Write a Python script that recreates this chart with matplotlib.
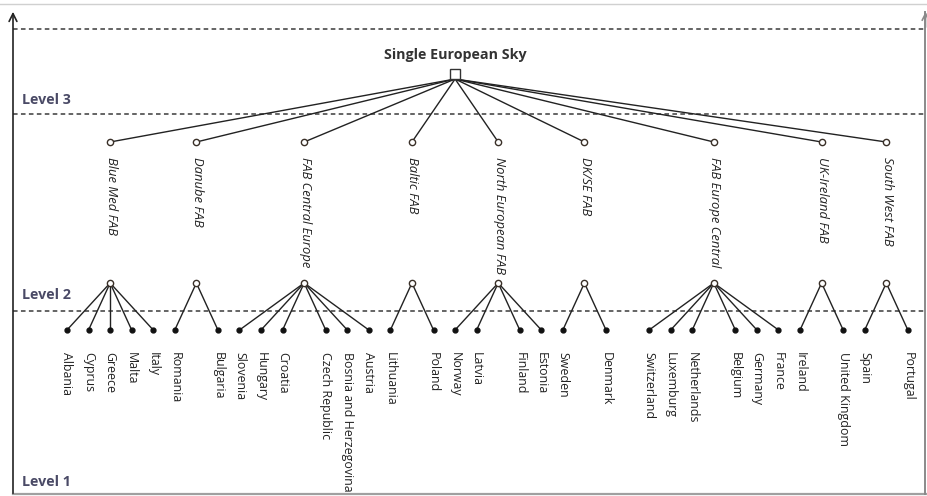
import matplotlib.pyplot as plt

plt.rcParams['font.family'] = ['Open Sans', 'DejaVu Sans']

# Tree data: root -> FABs -> member states
root_name = "Single European Sky"
fab_names = ["Blue Med FAB", "Danube FAB", "FAB Central Europe", "Baltic FAB",
             "North European FAB", "DK/SE FAB", "FAB Europe Central",
             "UK-Ireland FAB", "South West FAB"]
fab_members = [
    ["Albania", "Cyprus", "Greece", "Malta", "Italy"],
    ["Romania", "Bulgaria"],
    ["Slovenia", "Hungary", "Croatia", "Czech Republic",
     "Bosnia and Herzegovina", "Austria"],
    ["Lithuania", "Poland"],
    ["Norway", "Latvia", "Finland", "Estonia"],
    ["Sweden", "Denmark"],
    ["Switzerland", "Luxemburg", "Netherlands", "Belgium", "Germany", "France"],
    ["Ireland", "United Kingdom"],
    ["Spain", "Portugal"],
]
level_labels = ["Level 3", "Level 2", "Level 1"]

# layout (pixels)
W, H = 927, 496
SLOT0, STEP = 67, 21.56
extra_gap_before = {"FAB Europe Central"}
root_slot = 18
y_root_txt, y_root, y_fab_top, y_fab_lab = 55, 74, 142, 157
y_fab_bot, y_cty, y_cty_lab = 283, 330, 352
dash_y = [29, 114, 311]
level_y = [100, 295, 482]


def xpos(slot):
    return SLOT0 + slot * STEP


# assign slots: odd groups centre on a child, even groups leave the middle slot empty
slot = 0
fab_slots, child_slots = [], []
for name, kids in zip(fab_names, fab_members):
    if name in extra_gap_before:
        slot += 1
    n = len(kids)
    if n % 2:
        ks = list(range(slot, slot + n))
        parent = slot + n // 2
        slot += n
    else:
        h = n // 2
        ks = list(range(slot, slot + h)) + list(range(slot + h + 1, slot + n + 1))
        parent = slot + h
        slot += n + 1
    fab_slots.append(parent)
    child_slots.append(ks)

fig = plt.figure(figsize=(W / 100, H / 100), dpi=100)
ax = fig.add_axes([0, 0, 1, 1])
ax.set_xlim(0, W)
ax.set_ylim(H, 0)
ax.axis('off')

# frame bits
ax.plot([0, W], [4, 4], color='#d0d0d0', lw=1)
ax.plot([13, W], [493.5, 493.5], color='#a0a0a0', lw=1.6)
ax.plot([925.5, 925.5], [12, 494], color='#8a8a8a', lw=1.4)
ax.annotate('', xy=(13, 9), xytext=(13, H),
            arrowprops=dict(arrowstyle='->', lw=1.2, color='#222222', mutation_scale=14))
ax.annotate('', xy=(925.5, 9), xytext=(925.5, 30),
            arrowprops=dict(arrowstyle='->', lw=1.2, color='#8a8a8a', mutation_scale=12))
for y in dash_y:
    ax.plot([13, 925], [y, y], color='#3a3a3a', lw=1.1, ls=(0, (3, 2.2)))
for lab, y in zip(level_labels, level_y):
    ax.text(22, y, lab, fontsize=10.3, fontweight='bold', color='#4a4a66',
            ha='left', va='center')

# root
rx = xpos(root_slot)
ax.text(rx, y_root_txt, root_name, fontsize=10.3, fontweight='bold', color='#333333',
        ha='center', va='center')
for s in fab_slots:
    ax.plot([rx, xpos(s)], [y_root + 5, y_fab_top], color='#222222', lw=1)
ax.plot(rx, y_root, marker='s', ms=7.5, mfc='white', mec='#333333', mew=1, zorder=5)

# FABs and countries
for name, ps, ks, kids in zip(fab_names, fab_slots, child_slots, fab_members):
    px = xpos(ps)
    ax.plot(px, y_fab_top, marker='o', ms=4.5, mfc='white', mec='#3a3028', mew=1, zorder=5)
    ax.text(px + 1, y_fab_lab, name, rotation=270, style='italic', fontsize=9.4,
            color='#222222', ha='center', va='top')
    for k, kid in zip(ks, kids):
        kx = xpos(k)
        ax.plot([px, kx], [y_fab_bot, y_cty], color='#222222', lw=1)
        ax.plot(kx, y_cty, marker='o', ms=3.5, color='#111111', zorder=5)
        ax.text(kx, y_cty_lab, kid, rotation=270, fontsize=8.9, color='#222222',
                ha='center', va='top')
    ax.plot(px, y_fab_bot, marker='o', ms=4.5, mfc='white', mec='#3a3028', mew=1, zorder=5)

fig.savefig('out.png', dpi=100)
